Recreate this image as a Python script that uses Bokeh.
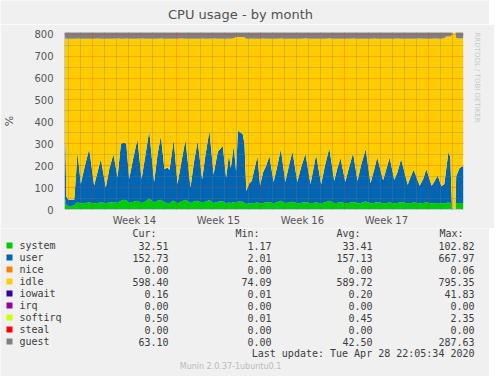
import math
from bokeh.plotting import figure
from bokeh.layouts import column, row
from bokeh.models import Range1d, FixedTicker, Grid, ColumnDataSource, Title
from bokeh.core.properties import value
from bokeh.embed import file_html
from bokeh.resources import INLINE

# ---------------- data ----------------
# time in days from the left edge of the graph
t_days = [
    0.00, 0.08, 0.15, 0.31, 0.81, 0.95, 1.08, 1.36, 1.70, 2.06,
    2.47, 2.75, 3.03, 3.44, 3.75, 4.08, 4.42, 4.70, 4.97, 5.15,
    5.39, 5.75, 6.08, 6.42, 6.75, 7.06, 7.47, 7.75, 8.03, 8.33,
    8.58, 8.75, 9.10, 9.42, 9.75, 10.08, 10.50, 10.80, 11.10, 11.47,
    11.75, 12.08, 12.42, 12.78, 13.19, 13.47, 13.70, 13.86, 14.10, 14.30,
    14.45, 14.85, 15.00, 15.15, 15.40, 15.60, 15.85, 16.08, 16.30, 16.55,
    16.80, 17.08, 17.42, 17.70, 18.03, 18.40, 18.70, 19.00, 19.40, 19.70,
    20.08, 20.50, 20.97, 21.39, 21.70, 22.07, 22.48, 22.70, 23.00, 23.40,
    23.70, 24.05, 24.42, 24.70, 25.10, 25.50, 25.80, 26.06, 26.55, 26.80,
    27.10, 27.48, 27.75, 28.05, 28.60, 28.85, 29.10, 29.60, 29.90, 30.15,
    30.60, 30.85, 31.10, 31.40, 31.65, 31.80, 32.00, 32.15, 32.28, 32.35,
    32.58, 32.64, 32.92, 33.25,
]
system = [
    45, 45, 20, 15, 18, 30, 32, 28, 30, 32,
    28, 30, 32, 30, 32, 34, 30, 40, 45, 42,
    30, 35, 40, 30, 36, 50, 32, 40, 45, 32,
    30, 30, 40, 28, 36, 44, 30, 36, 40, 30,
    36, 42, 30, 35, 38, 28, 32, 30, 34, 30,
    36, 35, 30, 25, 28, 28, 30, 32, 28, 30,
    32, 34, 28, 32, 40, 30, 32, 35, 28, 30,
    34, 28, 32, 28, 32, 40, 30, 30, 34, 28,
    30, 35, 28, 30, 36, 28, 30, 34, 28, 30,
    32, 28, 30, 34, 28, 30, 32, 28, 30, 32,
    28, 28, 30, 28, 28, 30, 32, 30, 10, 0,
    0, 28, 30, 30,
]
user = [
    255, 245, 40, 30, 27, 120, 228, 88, 170, 244,
    81, 140, 198, 71, 158, 218, 116, 260, 261, 258,
    109, 205, 281, 109, 214, 309, 93, 210, 291, 152,
    162, 150, 278, 88, 184, 274, 70, 184, 273, 107,
    214, 317, 130, 230, 252, 117, 218, 160, 256, 145,
    324, 310, 270, 60, 92, 102, 160, 212, 82, 140,
    168, 210, 97, 158, 236, 95, 168, 230, 97, 160,
    221, 88, 218, 87, 168, 240, 100, 150, 201, 97,
    160, 223, 102, 170, 240, 92, 150, 204, 105, 150,
    205, 107, 140, 196, 85, 120, 150, 80, 110, 153,
    80, 102, 125, 79, 87, 150, 233, 207, 10, 0,
    0, 124, 160, 170,
]
# level of the top of the idle (yellow) area
idle_top = [
    782, 782, 780, 780, 780, 780, 781, 780, 779, 780,
    780, 781, 780, 780, 779, 780, 781, 780, 780, 781,
    780, 779, 780, 781, 780, 780, 779, 780, 781, 780,
    780, 780, 779, 780, 781, 780, 780, 779, 780, 781,
    780, 780, 781, 779, 780, 780, 781, 780, 782, 788,
    788, 788, 786, 780, 780, 781, 780, 779, 780, 781,
    780, 780, 779, 780, 781, 780, 780, 780, 779, 780,
    781, 780, 780, 779, 780, 781, 780, 780, 780, 779,
    780, 781, 780, 780, 779, 780, 781, 780, 780, 780,
    779, 780, 781, 780, 780, 779, 780, 781, 780, 780,
    780, 781, 780, 780, 782, 790, 790, 790, 796, 808,
    808, 782, 781, 782,
]
guest = [
    45, 45, 45, 45, 45, 45, 45, 45, 45, 45,
    45, 45, 45, 45, 45, 45, 45, 45, 45, 45,
    45, 45, 45, 45, 45, 45, 45, 45, 45, 45,
    45, 45, 45, 45, 45, 45, 45, 45, 45, 45,
    45, 45, 45, 45, 45, 45, 45, 45, 45, 45,
    45, 45, 45, 45, 45, 45, 45, 45, 45, 45,
    45, 45, 45, 45, 45, 45, 45, 45, 45, 45,
    45, 45, 45, 45, 45, 45, 45, 45, 45, 45,
    45, 45, 45, 45, 45, 45, 45, 45, 45, 45,
    45, 45, 45, 45, 45, 45, 45, 45, 45, 45,
    45, 45, 45, 45, 45, 45, 45, 45, 10, 0,
    0, 45, 45, 45,
]
t_end = 33.25
first_week_start = 2.33
week_labels = ["Week 14", "Week 15", "Week 16", "Week 17"]
y_ticks = [0, 100, 200, 300, 400, 500, 600, 700, 800]

names = ["system", "user", "nice", "idle", "iowait", "irq", "softirq", "steal", "guest"]
colors = ["#00CC00", "#0066B3", "#FF8000", "#FFCC00", "#330099", "#990099", "#CCFF00", "#FF0000", "#808080"]
cur = ["32.51", "152.73", "0.00", "598.40", "0.16", "0.00", "0.50", "0.00", "63.10"]
mins = ["1.17", "2.01", "0.00", "74.09", "0.01", "0.00", "0.01", "0.00", "0.00"]
avgs = ["33.41", "157.13", "0.00", "589.72", "0.20", "0.00", "0.45", "0.00", "42.50"]
maxs = ["102.82", "667.97", "0.06", "795.35", "41.83", "0.00", "2.35", "0.00", "287.63"]

BG = "#f0f0f0"
MX, MY = 8, 0              # observed page offset of the layout
W = 497 - MX
HEAD_H = 24                # strip holding the title
TOP, FH, BOTTOM = 32 - MY - HEAD_H, 177, 19
LEFT = 67 - MX
MAIN_H = TOP + FH + BOTTOM
LEG_H = 376 - MY - HEAD_H - MAIN_H


def strip(height):
    f = figure(width=W, height=height, x_range=Range1d(0, W), y_range=Range1d(height, 0),
               x_axis_location=None, y_axis_location=None,
               output_backend="svg", toolbar_location=None, min_border=0,
               background_fill_color=BG, border_fill_color=BG, outline_line_color=None)
    f.grid.visible = False
    f.title.visible = False
    return f


def gx(px):
    return px - MX


# ---------------- title strip ----------------
h = strip(HEAD_H)
h.text(x=[gx(248)], y=[14 - MY], text=["CPU usage - by month"],
       text_font=value("DejaVu Sans"), text_font_size=value("13px"),
       text_color="#505050", text_align="center", text_baseline="alphabetic")

# ---------------- main chart ----------------
Y_TOP = 808
p = figure(frame_width=399, frame_height=FH,
           x_range=Range1d(0, t_end), y_range=Range1d(0, Y_TOP),
           output_backend="svg", toolbar_location=None,
           min_border_left=LEFT, min_border_right=W - LEFT - 399,
           min_border_top=TOP, min_border_bottom=BOTTOM,
           background_fill_color="#ffffff", border_fill_color=BG,
           outline_line_color=None)
p.title.visible = False

s1 = system
s2 = [a + b for a, b in zip(system, user)]
s4 = [a + b for a, b in zip(idle_top, guest)]
src = ColumnDataSource(dict(t=t_days, s1=s1, s2=s2, s3=idle_top, s4=s4))
p.varea(x="t", y1=0, y2="s1", source=src, fill_color=colors[0])
p.varea(x="t", y1="s1", y2="s2", source=src, fill_color=colors[1])
p.varea(x="t", y1="s2", y2="s3", source=src, fill_color=colors[3])
p.varea(x="t", y1="s3", y2="s4", source=src, fill_color=colors[8])

# grids (drawn over the areas, like rrdtool)
p.xgrid.visible = False
p.ygrid.visible = False
week_lines = [first_week_start + 7 * k for k in range(5)]
day_lines = [round(first_week_start - 2 + d, 2) for d in range(33)]
day_lines = [d for d in day_lines if all(abs(d - w) > 0.01 for w in week_lines)]
grid_specs = [
    (0, day_lines, "#7a7a7a", 0.55),
    (1, [50 + 100 * k for k in range(8)], "#7a7a7a", 0.55),
    (0, week_lines, "#ff2a00", 0.45),
    (1, y_ticks[1:], "#ff2a00", 0.45),
]
for dim, ticks, col, alpha in grid_specs:
    p.add_layout(Grid(dimension=dim, ticker=FixedTicker(ticks=ticks),
                      grid_line_color=col, grid_line_alpha=alpha,
                      grid_line_dash="1 1", level="overlay"))

# axes
week_centers = [round(w + 3.5, 2) for w in week_lines[:4]]
p.xaxis.ticker = FixedTicker(ticks=week_centers)
p.xaxis.major_label_overrides = {c: lab for c, lab in zip(week_centers, week_labels)}
p.yaxis.ticker = FixedTicker(ticks=y_ticks)
for ax in (p.xaxis, p.yaxis):
    ax.major_label_text_font = "DejaVu Sans"
    ax.major_label_text_font_size = "10px"
    ax.major_label_text_color = "#555555"
    ax.major_tick_line_color = None
    ax.minor_tick_line_color = None
    ax.axis_line_color = "#c4c4ec"
p.xaxis.major_tick_out = 0
p.xaxis.major_tick_in = 0
p.xaxis.major_label_standoff = 5
p.yaxis.major_label_standoff = 5
p.yaxis.axis_label = "%"
p.yaxis.axis_label_text_font = "DejaVu Sans"
p.yaxis.axis_label_text_font_size = "11px"
p.yaxis.axis_label_text_font_style = "normal"
p.yaxis.axis_label_text_color = "#555555"
p.yaxis.axis_label_standoff = 15

p.add_layout(Title(text="RRDTOOL / TOBI OETIKER", align="left",
                   text_font="DejaVu Sans", text_font_size="7px",
                   text_font_style="normal", text_color="#c8c8c8",
                   standoff=19), "right")

# ---------------- legend / footer (pixel coordinates) ----------------
q = strip(LEG_H)


def gy(py):
    return py - MY - HEAD_H - MAIN_H


rows = [gy(245 + 12 * i) for i in range(len(names))]
mono = dict(text_font=value("DejaVu Sans Mono"), text_font_size=value("10px"),
            text_color="#3c3c3c", text_baseline="middle")

q.text(x=[gx(v) for v in (140, 243, 344, 447)], y=[gy(233)] * 4,
       text=["Cur:", "Min:", "Avg:", "Max:"], text_align="left", **mono)
q.rect(x=[gx(17)] * len(names), y=rows, width=6, height=6, fill_color=colors, line_color=None)
q.text(x=[gx(27)] * len(names), y=rows, text=names, text_align="left", **mono)
for xr, vals in ((176, cur), (279, mins), (380, avgs), (482, maxs)):
    q.text(x=[gx(xr)] * len(vals), y=rows, text=vals, text_align="right", **mono)
q.text(x=[gx(482)], y=[gy(353)], text=["Last update: Tue Apr 28 22:05:34 2020"],
       text_align="right", **mono)
q.text(x=[gx(238)], y=[gy(366)], text=["Munin 2.0.37-1ubuntu0.1"],
       text_font=value("DejaVu Sans"), text_font_size=value("8px"),
       text_color="#bbbbbb", text_align="center", text_baseline="middle")

# the strips are wrapped in rows so their frames are not aligned to the chart's frame
layout = column(row(h), p, row(q), spacing=0)
open("out.html", "w").write(file_html(layout, INLINE))
